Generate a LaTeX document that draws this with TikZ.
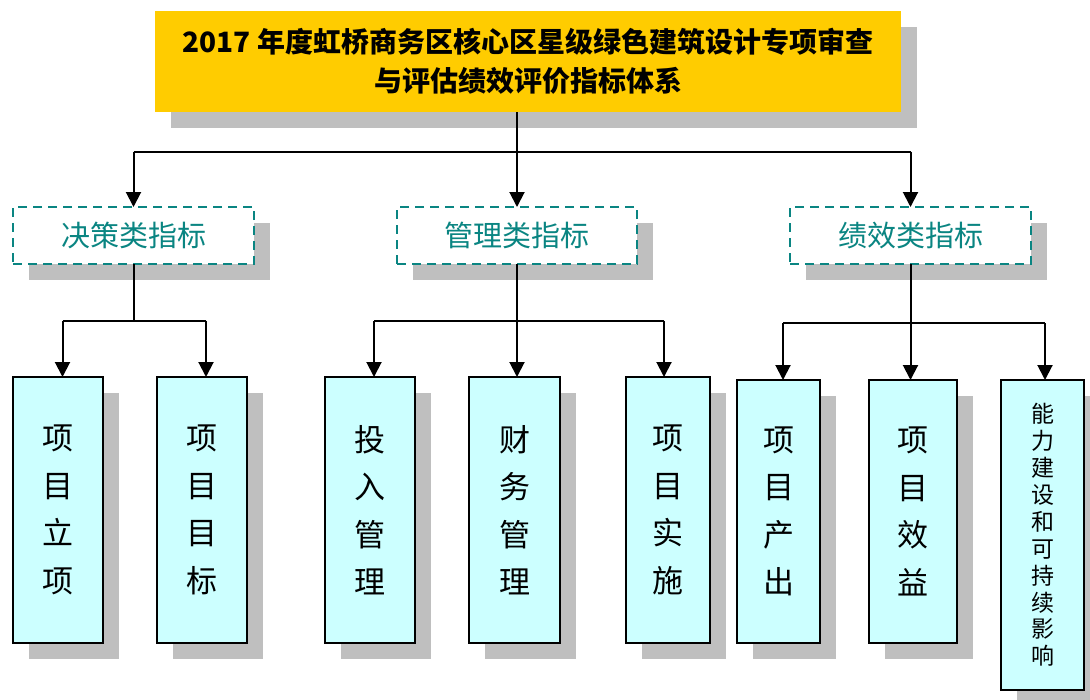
\documentclass[tikz,border=0pt]{standalone}
\usepackage{fontspec}
\setmainfont{Noto Sans CJK SC}
\usetikzlibrary{arrows.meta,shadows,calc}
\definecolor{gold}{HTML}{FFCC00}
\definecolor{leafcyan}{HTML}{CCFFFF}
\definecolor{shadegray}{HTML}{BFBFBF}
\definecolor{tealc}{HTML}{0A8582}
\begin{document}
\begin{tikzpicture}[x=1pt,y=-1pt,
  shaded/.style={drop shadow={shadow xshift=16pt,shadow yshift=-16pt,fill=shadegray,opacity=1}},
  titlebox/.style={shaded, fill=gold, draw=none, anchor=north west, inner sep=0pt, outer sep=0pt,
    align=center, font=\fontsize{28pt}{38.5pt}\selectfont\bfseries},
  catbox/.style={shaded, fill=white, draw=tealc, dash pattern=on 9pt off 6pt, line width=2.5pt,
    anchor=north west, inner sep=0pt, outer sep=0pt, text=tealc,
    font=\fontsize{29pt}{34pt}\selectfont, minimum height=57pt},
  leaf/.style={shaded, fill=leafcyan, draw=black, line width=2pt, anchor=north west,
    inner sep=0pt, outer sep=0pt, align=center, font=\fontsize{31pt}{47.5pt}\selectfont},
  longleaf/.style={leaf, font=\fontsize{23pt}{26.9pt}\selectfont},
  conn/.style={line width=2pt, draw=black},
  arr/.style={conn, -{Triangle[length=15pt,width=15pt]}},
]
\useasboundingbox (0,0) rectangle (1090,699);
\fill[white] (0,0) rectangle (1090,699);

% title
\node[titlebox, minimum width=746pt, minimum height=101pt] (title) at (155,11)
  {2017 年度虹桥商务区核心区星级绿色建筑设计专项审查\\与评估绩效评价指标体系};

% categories
\node[catbox, minimum width=241pt] (c1) at (13,207) {决策类指标};
\node[catbox, minimum width=240pt] (c2) at (397,207) {管理类指标};
\node[catbox, minimum width=241pt] (c3) at (790,207) {绩效类指标};

% leaves
\node[leaf, minimum width=90pt, minimum height=266pt] (l1) at (13,377) {项\\目\\立\\项};
\node[leaf, minimum width=90pt, minimum height=266pt] (l2) at (157,377) {项\\目\\目\\标};
\node[leaf, minimum width=90pt, minimum height=266pt] (l3) at (325,377) {投\\入\\管\\理};
\node[leaf, minimum width=91pt, minimum height=266pt] (l4) at (469,377) {财\\务\\管\\理};
\node[leaf, minimum width=84pt, minimum height=266pt] (l5) at (626,377) {项\\目\\实\\施};
\node[leaf, minimum width=83pt, minimum height=263pt] (l6) at (737,380) {项\\目\\产\\出};
\node[leaf, minimum width=88pt, minimum height=263pt] (l7) at (869,380) {项\\目\\效\\益};
\node[longleaf, minimum width=83pt, minimum height=310pt] (l8) at (1001,380)
  {能\\力\\建\\设\\和\\可\\持\\续\\影\\响};

% level 1 connectors
\coordinate (j0) at (517,151.5);
\draw[conn] (title.south -| c2.north) -- (c2.north |- j0);
\draw[conn] (c1.north |- j0) -- (c3.north |- j0);
\draw[arr] (c1.north |- j0) -- (c1.north);
\draw[arr] (c2.north |- j0) -- (c2.north);
\draw[arr] (c3.north |- j0) -- (c3.north);

% level 2: decision
\coordinate (j1) at (0,320.5);
\coordinate (a1) at ([xshift=4.5pt]l1.north);
\coordinate (a2) at ([xshift=4pt]l2.north);
\draw[conn] (c1.south) -- (c1.south |- j1);
\draw[conn] (a1 |- j1) -- (a2 |- j1);
\draw[arr] (a1 |- j1) -- (a1);
\draw[arr] (a2 |- j1) -- (a2);

% level 2: management
\coordinate (a3) at ([xshift=4pt]l3.north);
\coordinate (a5) at ([xshift=-4pt]l5.north);
\draw[conn] (a3 |- j1) -- (a5 |- j1);
\draw[arr] (c2.south) -- (c2.south |- l4.north);
\draw[arr] (a3 |- j1) -- (a3);
\draw[arr] (a5 |- j1) -- (a5);

% level 2: performance
\coordinate (j2) at (0,323);
\coordinate (a6) at ([xshift=4.5pt]l6.north);
\coordinate (a8) at ([xshift=2.5pt]l8.north);
\draw[conn] (a6 |- j2) -- (a8 |- j2);
\draw[arr] (c3.south) -- (c3.south |- l7.north);
\draw[arr] (a6 |- j2) -- (a6);
\draw[arr] (a8 |- j2) -- (a8);
\end{tikzpicture}
\end{document}
